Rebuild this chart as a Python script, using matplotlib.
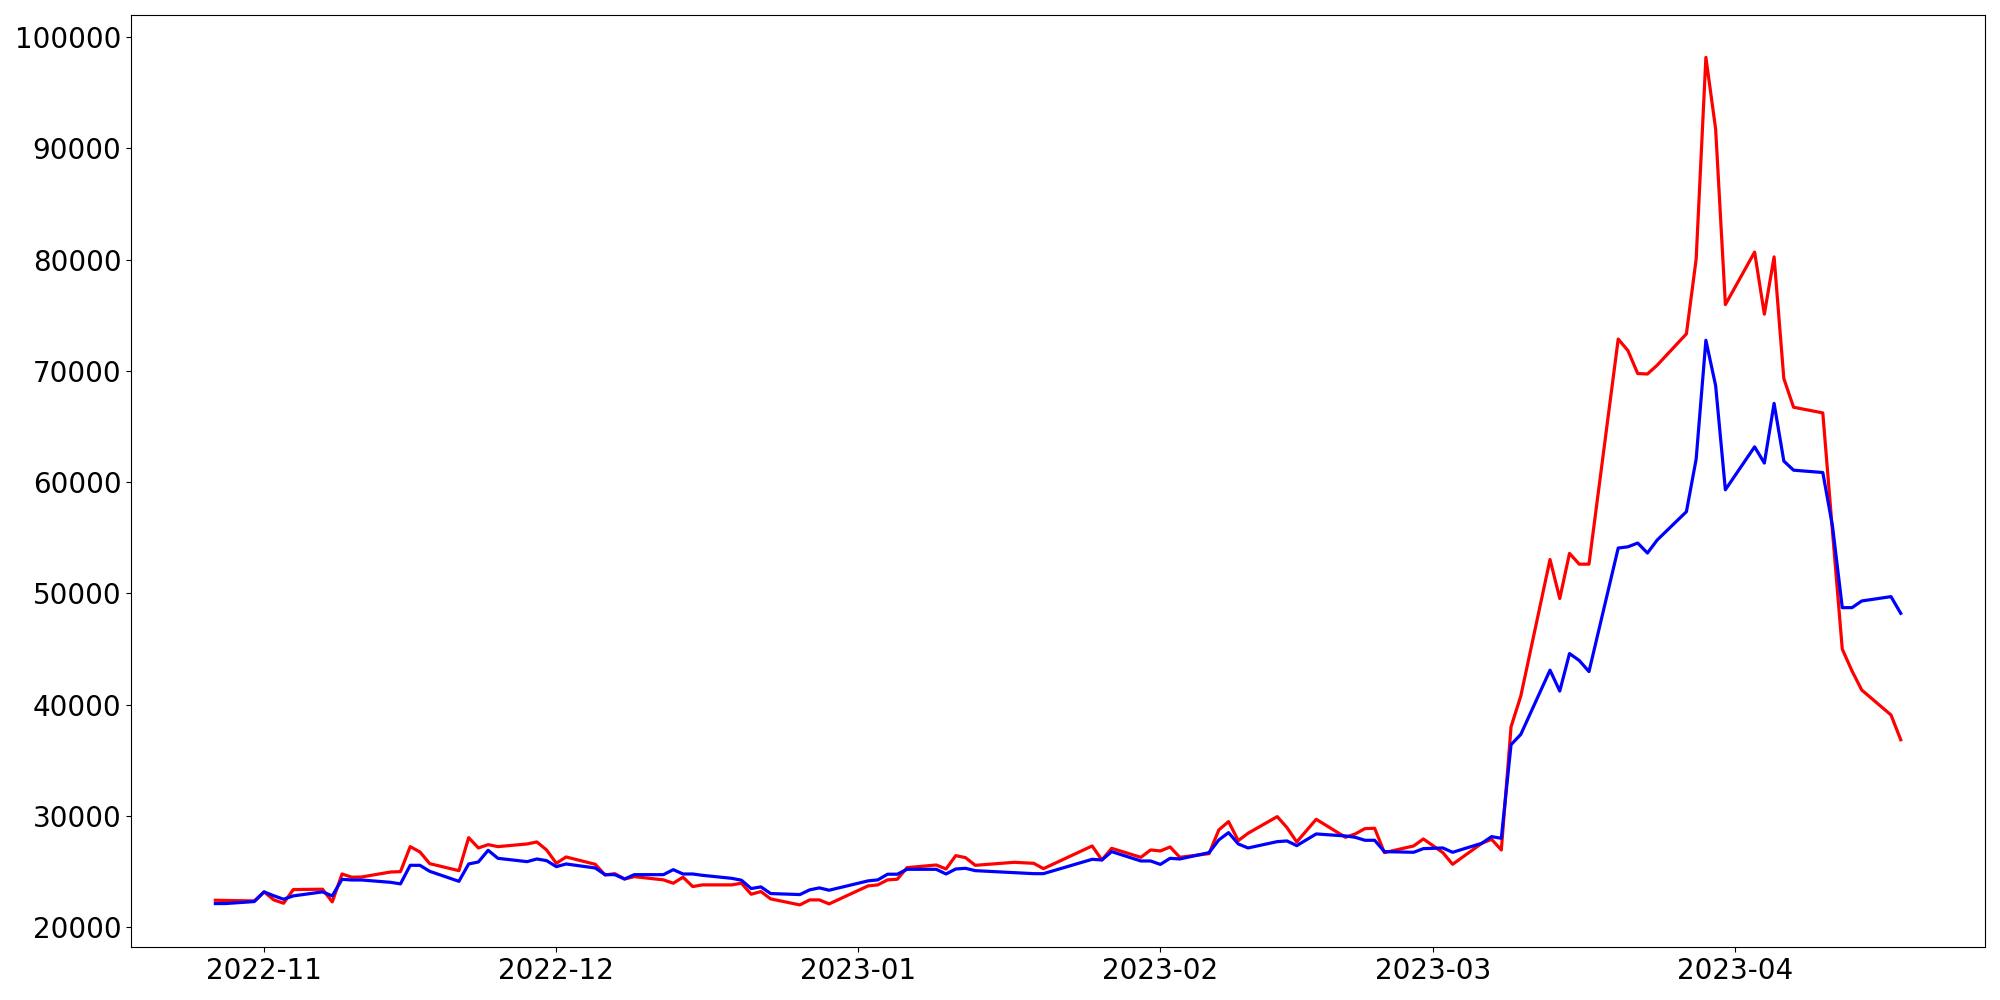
import matplotlib
matplotlib.use("Agg")
import matplotlib.pyplot as plt
import pandas as pd

# trading days shown in the chart (weekdays, a few days have no point)
start_date = "2022-10-27"
end_date = "2023-04-18"
missing_days = ["2022-12-30", "2023-01-16", "2023-01-18", "2023-01-23",
                "2023-01-24", "2023-02-16", "2023-03-01"]

# red series
red_values = [
    # Oct
    22400, 22380, 22340,
    # Nov
    23150, 22430, 22130, 23360,
    23390, 22250, 24760, 24470, 24490,
    24940, 24970, 27220, 26740, 25690,
    25060, 28030, 27100, 27400, 27220,
    27460, 27640, 26920,
    # Dec
    25720, 26290,
    25630, 24670, 24790, 24310, 24520,
    24230, 23930, 24470, 23630, 23780,
    23780, 23930, 22940, 23180, 22520,
    21980, 22430, 22430, 22070,
    # Jan
    23690, 23780, 24230, 24290, 25330,
    25570, 25210, 26410, 26230, 25540,
    25810, 25720, 25240,
    27280, 26020, 27070,
    26260, 26920,
    # Feb
    26830, 27190, 26260,
    26590, 28720, 29470, 27760, 28420,
    29920, 28930, 27640, 29680,
    28060, 28360, 28840, 28870, 26680,
    27280, 27910,
    # Mar
    26680, 25630,
    27520, 27880, 26920, 38000, 40760,
    53040, 49530, 53590, 52620, 52620,
    72860, 71820, 69760, 69720, 70510,
    73330, 80040, 98190, 91750, 75960,
    # Apr
    80680, 75100, 80250, 69310, 66730,
    66220, 55500, 44980, 43010, 41300,
    39060, 36830,
]

# blue series
blue_values = [
    # Oct
    22100, 22100, 22280,
    # Nov
    23150, 22800, 22490, 22790,
    23150, 22790, 24280, 24220, 24220,
    24010, 23870, 25540, 25540, 25000,
    24100, 25660, 25840, 26890, 26170,
    25870, 26110, 25960,
    # Dec
    25420, 25660,
    25300, 24700, 24700, 24310, 24700,
    24700, 25150, 24760, 24760, 24640,
    24370, 24200, 23450, 23600, 23000,
    22910, 23330, 23510, 23300,
    # Jan
    24140, 24230, 24740, 24740, 25180,
    25180, 24760, 25210, 25270, 25060,
    24880, 24790, 24790,
    26080, 26020, 26770,
    25930, 25930,
    # Feb
    25620, 26170, 26110,
    26680, 27820, 28480, 27460, 27100,
    27670, 27730, 27310, 28360,
    28180, 28060, 27790, 27790, 26770,
    26710, 27040,
    # Mar
    27100, 26710,
    27520, 28120, 27970, 36390, 37310,
    43090, 41210, 44580, 43960, 42960,
    54070, 54180, 54520, 53620, 54790,
    57340, 62060, 72750, 68670, 59310,
    # Apr
    63170, 61710, 67080, 61890, 61070,
    60860, 56010, 48710, 48710, 49310,
    49700, 48200,
]

dates = pd.bdate_range(start_date, end_date)
dates = dates[~dates.isin(pd.to_datetime(missing_days))]
assert len(dates) == len(red_values) == len(blue_values)

fig, ax = plt.subplots(figsize=(20, 10), dpi=100)
ax.plot(dates, red_values, color="red", linewidth=2.3)
ax.plot(dates, blue_values, color="blue", linewidth=2.3)

ax.tick_params(axis="both", labelsize=20)
plt.tight_layout()
plt.savefig("out.png", dpi=100)
